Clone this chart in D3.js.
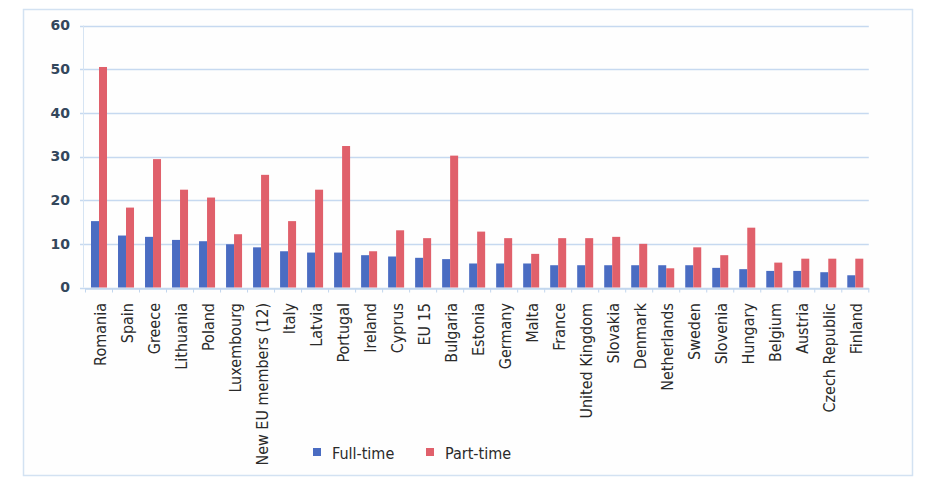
<!DOCTYPE html>
<html>
<head>
<meta charset="utf-8">
<script src="https://cdn.jsdelivr.net/npm/d3@7"></script>
<style>
  html, body { margin: 0; padding: 0; background: #ffffff; }
  svg { display: block; }
</style>
</head>
<body>
<svg id="chart" width="933" height="484"></svg>
<script>
// Countries, ordered by full-time share
const categories = [
  "Romania", "Spain", "Greece", "Lithuania", "Poland", "Luxembourg",
  "New EU members (12)", "Italy", "Latvia", "Portugal", "Ireland", "Cyprus",
  "EU 15", "Bulgaria", "Estonia", "Germany", "Malta", "France",
  "United Kingdom", "Slovakia", "Denmark", "Netherlands", "Sweden",
  "Slovenia", "Hungary", "Belgium", "Austria", "Czech Republic", "Finland"
];

const fullTime = [
  15.2, 11.9, 11.6, 10.9, 10.6, 9.9,
  9.2, 8.3, 8.0, 8.0, 7.4, 7.1,
  6.8, 6.5, 5.5, 5.5, 5.5, 5.1,
  5.1, 5.1, 5.1, 5.1, 5.1,
  4.5, 4.2, 3.8, 3.8, 3.5, 2.8
];

const partTime = [
  50.5, 18.3, 29.4, 22.4, 20.6, 12.2,
  25.8, 15.2, 22.4, 32.4, 8.3, 13.1,
  11.3, 30.2, 12.8, 11.3, 7.7, 11.3,
  11.3, 11.6, 10.0, 4.4, 9.2,
  7.4, 13.7, 5.7, 6.6, 6.6, 6.6
];

const seriesNames = ["Full-time", "Part-time"];
const yTicks = [0, 10, 20, 30, 40, 50, 60];

const colors = { "Full-time": "#4a6cc2", "Part-time": "#e0606b" };

const svg = d3.select("#chart");

// outer frame
svg.append("rect")
  .attr("x", 23.5).attr("y", 9.5)
  .attr("width", 889).attr("height", 466)
  .attr("fill", "#fefefe")
  .attr("stroke", "#d3e2f2")
  .attr("stroke-width", 1.5);

const x0 = d3.scaleBand().domain(categories).range([85.5, 868.8]).padding(0);
const y = d3.scaleLinear().domain([0, 60]).range([287.5, 25.5]);
const barW = 8;
const x1 = d3.scaleBand().domain(seriesNames).range([0, barW * 2]);

// horizontal gridlines
svg.append("g")
  .selectAll("line")
  .data(yTicks)
  .join("line")
  .attr("x1", 80).attr("x2", x0.range()[1])
  .attr("y1", d => Math.round(y(d)) + 0.5)
  .attr("y2", d => Math.round(y(d)) + 0.5)
  .attr("stroke", "#c6d9f0")
  .attr("stroke-width", 1.3);

// y axis
const yAxis = d3.axisLeft(y).tickValues(yTicks).tickSize(0).tickPadding(0);
const gy = svg.append("g").attr("transform", "translate(70,0)").call(yAxis);
gy.select(".domain").remove();
gy.selectAll("text")
  .attr("font-family", "DejaVu Sans, sans-serif")
  .attr("font-weight", "bold")
  .attr("font-size", 14)
  .attr("fill", "#33475c");

// left axis line
svg.append("line")
  .attr("x1", 83.5).attr("x2", 83.5)
  .attr("y1", y(60)).attr("y2", y(0))
  .attr("stroke", "#d6e4f3");

// bars
const groups = svg.append("g")
  .selectAll("g")
  .data(categories.map((c, i) => ({ c, values: [fullTime[i], partTime[i]] })))
  .join("g")
  .attr("transform", d => `translate(${x0(d.c) + (x0.bandwidth() - barW * 2) / 2},0)`);

groups.selectAll("rect")
  .data(d => seriesNames.map((s, j) => ({ s, v: d.values[j] })))
  .join("rect")
  .attr("x", d => x1(d.s))
  .attr("width", barW)
  .attr("y", d => y(d.v))
  .attr("height", d => y(0) - y(d.v))
  .attr("fill", d => colors[d.s]);

// category axis
const xAxis = d3.axisBottom(x0).tickSize(0).tickFormat("");
const gx = svg.append("g").attr("transform", `translate(0,${Math.round(y(0)) + 0.5})`).call(xAxis);
gx.select(".domain").attr("stroke", "#c2d6ee").attr("stroke-width", 1.3);
// tick marks at band boundaries
const boundaries = categories.map(c => x0(c)).concat([x0.range()[1]]);
gx.selectAll(".bnd")
  .data(boundaries)
  .join("line")
  .attr("class", "bnd")
  .attr("x1", d => d).attr("x2", d => d)
  .attr("y1", 0).attr("y2", 4)
  .attr("stroke", "#c2d6ee");

// rotated category labels
svg.append("g")
  .selectAll("text")
  .data(categories)
  .join("text")
  .attr("transform", d => `translate(${x0(d) + x0.bandwidth() / 2 + 1},303) rotate(-90)`)
  .attr("text-anchor", "end")
  .attr("dy", "0.35em")
  .attr("font-family", "DejaVu Sans Condensed, DejaVu Sans, sans-serif")
  .attr("font-stretch", "condensed")
  .attr("font-size", 16)
  .attr("fill", "#2a2a2a")
  .text(d => d);

// legend
const legendPos = [{ s: "Full-time", x: 313 }, { s: "Part-time", x: 426 }];
const legend = svg.append("g")
  .selectAll("g")
  .data(legendPos)
  .join("g")
  .attr("transform", d => `translate(${d.x},448)`);
legend.append("rect")
  .attr("width", 8).attr("height", 8)
  .attr("fill", d => colors[d.s]);
legend.append("text")
  .attr("x", 19).attr("y", 10.5)
  .attr("font-family", "DejaVu Sans Condensed, DejaVu Sans, sans-serif")
  .attr("font-stretch", "condensed")
  .attr("font-size", 16)
  .attr("fill", "#2a2a2a")
  .text(d => d.s);
</script>
</body>
</html>
